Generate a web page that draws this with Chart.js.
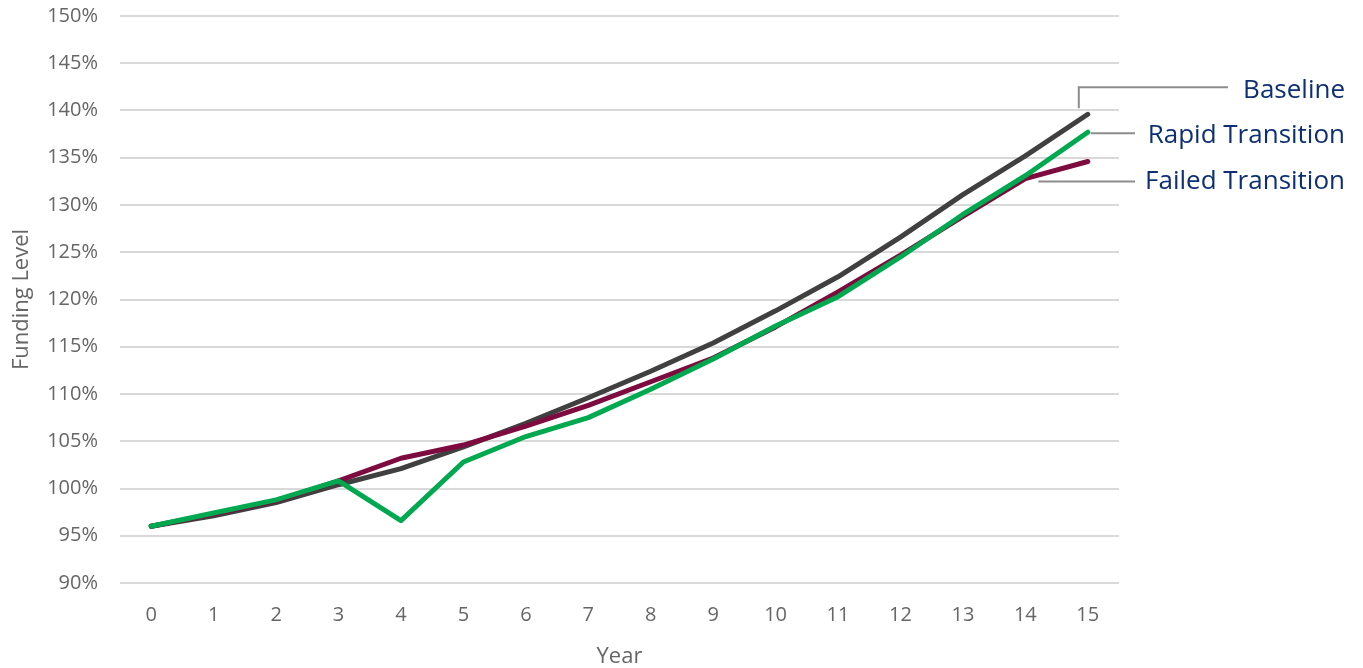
<!DOCTYPE html>
<html>
<head>
<meta charset="utf-8">
<script src="https://cdn.jsdelivr.net/npm/chart.js@4/dist/chart.umd.min.js"></script>
<style>
  html, body { margin: 0; padding: 0; background: #ffffff; }
  #wrap { position: relative; width: 1363px; height: 668px; }
</style>
</head>
<body>
<div id="wrap"><canvas id="chart" width="1363" height="668"></canvas></div>
<script>
// Projected funding level by year under three scenarios
const years = ['0','1','2','3','4','5','6','7','8','9','10','11','12','13','14','15'];
const baseline = [96.0, 97.1, 98.5, 100.4, 102.1, 104.4, 106.9, 109.6, 112.4, 115.4, 118.8, 122.4, 126.6, 131.1, 135.2, 139.6];
const rapidTransition = [96.0, 97.4, 98.8, 100.8, 96.6, 102.8, 105.5, 107.5, 110.5, 113.7, 117.2, 120.3, 124.5, 129.0, 133.1, 137.7];
const failedTransition = [96.0, 97.3, 98.7, 100.8, 103.2, 104.6, 106.6, 108.8, 111.3, 113.8, 117.1, 120.8, 124.7, 128.8, 132.8, 134.6];
const seriesNames = ['Baseline', 'Rapid Transition', 'Failed Transition'];
const yTicks = [90, 95, 100, 105, 110, 115, 120, 125, 130, 135, 140, 145, 150];

const FONT = '"Open Sans", "DejaVu Sans", sans-serif';
const TICK_COLOR = '#666666';
const LABEL_COLOR = '#0d2f73';
const LEADER_COLOR = '#8c8c8c';

// Right-hand series labels with leader lines back to the line ends
const endLabels = {
  id: 'endLabels',
  afterDatasetsDraw(chart) {
    const { ctx, scales: { x, y } } = chart;
    const last = years.length - 1;
    const xEnd = x.getPixelForValue(last);
    const textRight = 1345;
    ctx.save();
    ctx.strokeStyle = LEADER_COLOR;
    ctx.lineWidth = 2;
    ctx.font = '26px ' + FONT;
    ctx.fillStyle = LABEL_COLOR;
    ctx.textAlign = 'right';
    ctx.textBaseline = 'middle';

    // Baseline: elbow leader rising above the line end
    const yB = y.getPixelForValue(baseline[last]);
    const yBLabel = yB - 24;
    ctx.beginPath();
    ctx.moveTo(xEnd - 9, yB - 6);
    ctx.lineTo(xEnd - 9, yBLabel - 3);
    ctx.lineTo(1228, yBLabel - 3);
    ctx.stroke();
    ctx.fillText(seriesNames[0], textRight, yBLabel);

    // Rapid Transition: short horizontal leader
    const yR = y.getPixelForValue(rapidTransition[last]);
    ctx.beginPath();
    ctx.moveTo(xEnd + 3, yR + 1);
    ctx.lineTo(1135, yR + 1);
    ctx.stroke();
    ctx.fillText(seriesNames[1], textRight, yR + 3);

    // Failed Transition: leader from the segment before the end
    const yF14 = y.getPixelForValue(failedTransition[last - 1]);
    const xF14 = x.getPixelForValue(last - 1);
    ctx.beginPath();
    ctx.moveTo(xF14 + 13, yF14 + 3);
    ctx.lineTo(1135, yF14 + 3);
    ctx.stroke();
    ctx.fillText(seriesNames[2], textRight, yF14 + 3);
    ctx.restore();
  }
};

const lineStyle = (color) => ({
  borderColor: color,
  backgroundColor: color,
  borderWidth: 5,
  pointRadius: 0,
  pointHoverRadius: 0,
  tension: 0,
  fill: false,
  borderCapStyle: 'round',
  borderJoinStyle: 'round'
});

new Chart(document.getElementById('chart'), {
  type: 'line',
  data: {
    labels: years,
    datasets: [
      Object.assign({ label: seriesNames[0], data: baseline, order: 3 }, lineStyle('#404040')),
      Object.assign({ label: seriesNames[2], data: failedTransition, order: 2 }, lineStyle('#7d0b3f')),
      Object.assign({ label: seriesNames[1], data: rapidTransition, order: 1 }, lineStyle('#00a84f'))
    ]
  },
  options: {
    responsive: false,
    animation: false,
    devicePixelRatio: 1,
    layout: { padding: { top: 0, right: 244, bottom: 0, left: 0 } },
    plugins: {
      legend: { display: false },
      tooltip: { enabled: false },
      title: { display: false }
    },
    scales: {
      x: {
        type: 'category',
        offset: true,
        grid: { display: false, drawTicks: false },
        border: { display: false },
        ticks: {
          color: TICK_COLOR,
          font: { family: FONT, size: 20 },
          padding: 20,
          maxRotation: 0,
          autoSkip: false
        },
        title: {
          display: true,
          text: 'Year',
          color: TICK_COLOR,
          font: { family: FONT, size: 22 },
          padding: { top: 0, bottom: -2 }
        },
        afterFit(scale) { scale.height = 85; }
      },
      y: {
        min: 90,
        max: 150,
        afterBuildTicks(scale) { scale.ticks = yTicks.map(v => ({ value: v })); },
        grid: {
          color: '#d9d9d9',
          lineWidth: 2,
          drawTicks: true,
          tickLength: 18,
          tickColor: 'rgba(0,0,0,0)'
        },
        border: { display: false },
        ticks: {
          color: TICK_COLOR,
          font: { family: FONT, size: 20 },
          padding: 4,
          callback: (v) => v + '%'
        },
        title: {
          display: true,
          text: 'Funding Level',
          color: TICK_COLOR,
          font: { family: FONT, size: 22 },
          padding: { top: 9, bottom: 0 }
        },
        afterFit(scale) { scale.width = 120; }
      }
    }
  },
  plugins: [endLabels]
});
</script>
</body>
</html>
